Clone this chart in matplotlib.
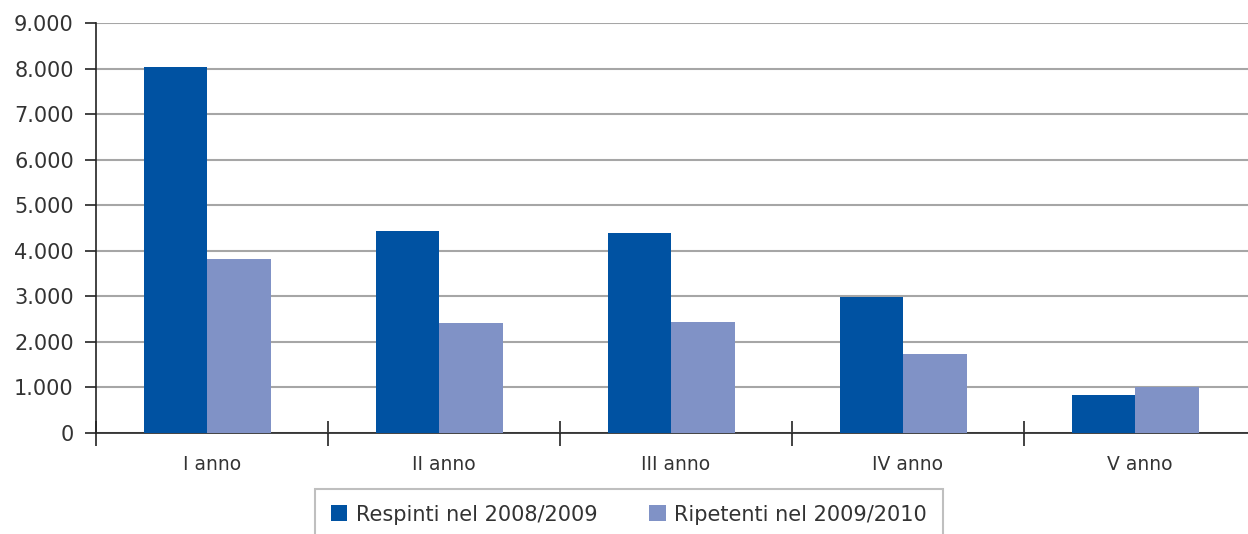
import numpy as np
import matplotlib
matplotlib.use("Agg")
import matplotlib.pyplot as plt
from matplotlib.ticker import FuncFormatter

categories = ["I anno", "II anno", "III anno", "IV anno", "V anno"]
respinti = [8030, 4430, 4390, 2990, 840]
ripetenti = [3810, 2420, 2440, 1740, 1010]
series_names = ["Respinti nel 2008/2009", "Ripetenti nel 2009/2010"]

DARK, LIGHT, GRID, TXT = "#0052A2", "#8092C6", "#A6A6A6", "#333333"
plt.rcParams.update({"font.family": ["DejaVu Sans"], "text.color": TXT,
                     "xtick.color": TXT, "ytick.color": TXT})

fig = plt.figure(figsize=(12.48, 5.34), dpi=100)
ax = fig.add_axes([96/1248, 1 - 433/534, 1160/1248, (433 - 23)/534])

x = np.arange(len(categories)); w = 0.275
ax.bar(x - w/2 - 0.02, respinti, w, color=DARK, zorder=3, label=series_names[0])
ax.bar(x + w/2 - 0.02, ripetenti, w, color=LIGHT, zorder=3, label=series_names[1])

ax.set_xlim(-0.5, 4.5); ax.set_ylim(0, 9000)
ax.set_yticks(range(0, 9001, 1000))
ax.yaxis.set_major_formatter(FuncFormatter(lambda v, p: f"{int(v):,}".replace(",", ".")))
ax.set_xticks(np.arange(-0.5, 4.6, 1)); ax.set_xticklabels([])
ax.set_xticks(x, minor=True); ax.set_xticklabels(categories, minor=True, fontsize=13.5)
ax.tick_params(axis="x", which="major", direction="inout", length=18, width=1.2, color="#222222")
ax.tick_params(axis="x", which="minor", length=0, pad=16)
ax.tick_params(axis="y", direction="out", length=8, width=1.2, color="#222222", labelsize=15, pad=8)
ax.yaxis.grid(True, color=GRID, lw=1.5, zorder=0); ax.set_axisbelow(True)
for s in ["top", "right"]: ax.spines[s].set_visible(False)
ax.spines["left"].set_color("#222222"); ax.spines["bottom"].set_color("#222222")
ax.spines["left"].set_linewidth(1.2); ax.spines["bottom"].set_linewidth(1.2)

leg = fig.legend(loc="upper center", bbox_to_anchor=(629/1248, 1 - 489/534), ncol=2, fontsize=15,
                 handlelength=0.8, handleheight=0.8, handletextpad=0.4, columnspacing=2.5,
                 borderpad=0.75, borderaxespad=0, fancybox=False, edgecolor="#B0B0B0")
leg.get_frame().set_linewidth(1.5)

fig.savefig("out.png", dpi=100)
